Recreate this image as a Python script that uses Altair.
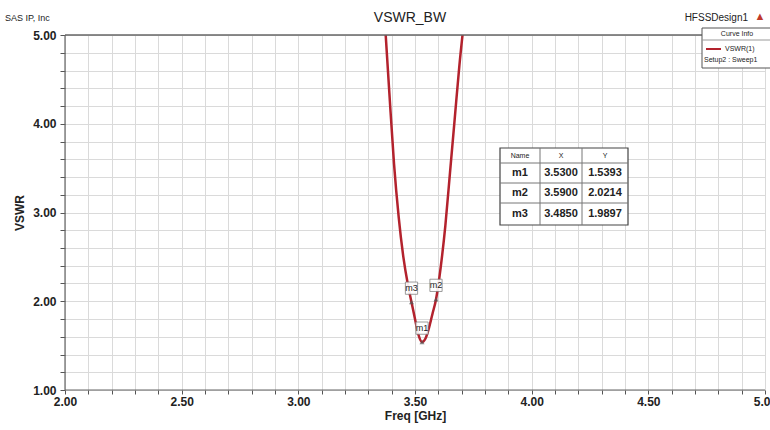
import altair as alt
import pandas as pd

# ---- data ----
freq = [3.372, 3.39, 3.41, 3.43, 3.45, 3.47, 3.485, 3.50, 3.515, 3.53,
        3.545, 3.56, 3.575, 3.59, 3.61, 3.63, 3.65, 3.67, 3.69, 3.712]
vswr = [5.10, 4.35, 3.55, 2.95, 2.50, 2.18, 1.99, 1.80, 1.62, 1.54,
        1.58, 1.70, 1.86, 2.02, 2.38, 2.85, 3.45, 4.05, 4.65, 5.20]
marker_names = ["m1", "m2", "m3"]
marker_x = [3.53, 3.59, 3.485]
marker_y = [1.5393, 2.0214, 1.9897]
table_header = ["Name", "X", "Y"]
table_x_text = ["3.5300", "3.5900", "3.4850"]
table_y_text = ["1.5393", "2.0214", "1.9897"]
x_ticks = [round(2.0 + 0.1 * i, 1) for i in range(31)]
y_ticks = [round(1.0 + 0.2 * i, 1) for i in range(21)]

W, H = 700, 355
FONT = "Liberation Sans"
RED = "#b3222d"

curve = pd.DataFrame({"freq": freq, "vswr": vswr})
markers = pd.DataFrame({"name": marker_names, "freq": marker_x, "vswr": marker_y})

xs = alt.Scale(domain=[2, 5], nice=False, zero=False)
ys = alt.Scale(domain=[1, 5], nice=False, zero=False)

lab_x = "abs(datum.value*2 - round(datum.value*2)) < 0.001 ? format(datum.value, '.2f') : ''"
lab_y = "abs(datum.value - round(datum.value)) < 0.001 ? format(datum.value, '.2f') : ''"

x_axis = alt.Axis(values=x_ticks, labelExpr=lab_x, title="Freq [GHz]", labelOverlap=False,
                  labelFlush=False, labelFont=FONT, labelFontWeight="bold", labelFontSize=12,
                  labelColor="#222", titleFont=FONT, titleFontSize=12, titleFontWeight="bold",
                  titleColor="#222", titlePadding=3, labelPadding=2, tickSize=4,
                  tickColor="#555", gridColor="#dadada", domain=False)
y_axis = alt.Axis(values=y_ticks, labelExpr=lab_y, title="VSWR", labelOverlap=False,
                  labelFlush=False, labelFont=FONT, labelFontWeight="bold", labelFontSize=12,
                  labelColor="#222", titleFont=FONT, titleFontSize=12, titleFontWeight="bold",
                  titleColor="#222", titlePadding=6, labelPadding=4, tickSize=5,
                  tickColor="#555", gridColor="#dadada", domain=False)

X = alt.X("freq:Q", scale=xs, axis=x_axis)
Y = alt.Y("vswr:Q", scale=ys, axis=y_axis)

line = alt.Chart(curve).mark_line(color=RED, strokeWidth=2.5, clip=True,
                                  interpolate="monotone").encode(x=X, y=Y)

pts = alt.Chart(markers).mark_point(shape="triangle-up", size=25, filled=True, color="#555").encode(x=X, y=Y)
boxes = alt.Chart(markers).mark_square(size=150, color="white", stroke="#777", strokeWidth=0.8,
                                       opacity=0.9, yOffset=-14).encode(x=X, y=Y)
labs = alt.Chart(markers).mark_text(font=FONT, fontSize=9, color="#222", dy=-14).encode(
    x=X, y=Y, text="name:N")

layers = [line, pts, boxes, labs]

def ptext(txt, x, y, size=10, align="center", weight="normal", color="#222", baseline="middle"):
    return alt.Chart(pd.DataFrame({"t": [txt]})).mark_text(
        font=FONT, fontSize=size, align=align, fontWeight=weight, color=color,
        baseline=baseline).encode(x=alt.value(x), y=alt.value(y), text="t:N")

def prect(x1, x2, y1, y2, fill="white", stroke="#555", sw=1):
    return alt.Chart(pd.DataFrame({"a": [0]})).mark_rect(fill=fill, stroke=stroke, strokeWidth=sw).encode(
        x=alt.value(x1), x2=alt.value(x2), y=alt.value(y1), y2=alt.value(y2))

def prule(x1, x2, y1, y2, color="#555", sw=1):
    return alt.Chart(pd.DataFrame({"a": [0]})).mark_rule(color=color, strokeWidth=sw).encode(
        x=alt.value(x1), x2=alt.value(x2), y=alt.value(y1), y2=alt.value(y2))

# marker table
tx = [435, 475, 517, 563]
ty = [113, 128, 148, 168, 190]
layers.append(prect(tx[0], tx[3], ty[0], ty[4], stroke="#444", sw=1.2))
for yy in ty[1:4]:
    layers.append(prule(tx[0], tx[3], yy, yy, color="#777"))
for xx in tx[1:3]:
    layers.append(prule(xx, xx, ty[0], ty[4], color="#777"))
for i, h in enumerate(table_header):
    layers.append(ptext(h, (tx[i] + tx[i + 1]) / 2, (ty[0] + ty[1]) / 2, size=7))
for r in range(3):
    cy = (ty[r + 1] + ty[r + 2]) / 2
    layers.append(ptext(marker_names[r], (tx[0] + tx[1]) / 2, cy, size=11, weight="bold"))
    layers.append(ptext(table_x_text[r], (tx[1] + tx[2]) / 2, cy, size=11, weight="bold"))
    layers.append(ptext(table_y_text[r], (tx[2] + tx[3]) / 2, cy, size=11, weight="bold"))

# header texts
layers.append(ptext("SAS IP, Inc", -60, -17, size=9, align="left"))
layers.append(ptext("VSWR_BW", 345, -17, size=14))
layers.append(ptext("HFSSDesign1", 683, -17, size=10, align="right"))
layers.append(ptext("▲", 695, -18, size=11, color="#c0392b"))

# plot frame (darker top and left like the reference)
layers.append(prule(0, W, 0, 0, color="#666", sw=1.5))
layers.append(prule(0, 0, 0, H, color="#666", sw=1.2))
layers.append(prule(0, W, H, H, color="#666", sw=1.2))

# curve info box
layers.append(prect(637, 707, -7, 33, stroke="#555", sw=1))
layers.append(prule(637, 707, 5, 5, color="#999"))
layers.append(ptext("Curve Info", 672, -1, size=7))
layers.append(prule(641, 656, 14, 14, color=RED, sw=2))
layers.append(ptext("VSWR(1)", 660, 14, size=7, align="left"))
layers.append(ptext("Setup2 : Sweep1", 639, 25, size=7, align="left"))

chart = alt.layer(*layers).properties(
    width=W, height=H,
    autosize=alt.AutoSizeParams(type="none"),
    padding={"left": 65, "top": 35, "right": 5, "bottom": 40},
).configure_view(stroke="#888", strokeWidth=1).configure(background="white")

chart.save("out.html", embed_options={"renderer": "svg", "actions": False})
